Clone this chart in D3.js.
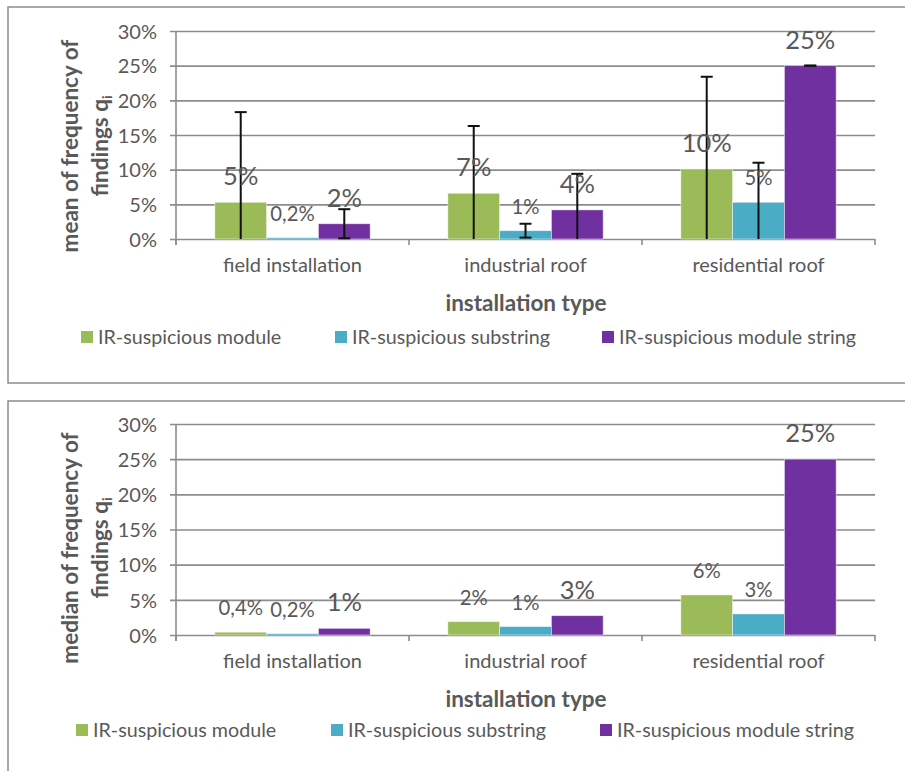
<!DOCTYPE html>
<html>
<head>
<meta charset="utf-8">
<script src="https://cdn.jsdelivr.net/npm/d3@7"></script>
<style>
  html, body { margin: 0; padding: 0; background: #fff; }
  svg { display: block; }
  text { font-family: Lato, "Open Sans", sans-serif; fill: #595959; }
</style>
</head>
<body>
<svg id="chart" width="905" height="771"></svg>
<script>
// Installation types on the x axis
const categories = ["field installation", "industrial roof", "residential roof"];
// Finding types (series)
const series = ["IR-suspicious module", "IR-suspicious substring", "IR-suspicious module string"];
const seriesColors = ["#9BBB59", "#4BACC6", "#7030A0"];

// Mean of frequency of findings q_i
const meanModule = [0.053, 0.066, 0.101];
const meanSubstring = [0.002, 0.012, 0.053];
const meanString = [0.022, 0.042, 0.25];
// Standard deviation (error bars) for the means
const meanErrModule = [0.130, 0.097, 0.133];
const meanErrSubstring = [0.000, 0.010, 0.057];
const meanErrString = [0.021, 0.052, 0.000];

// Median of frequency of findings q_i
const medianModule = [0.004, 0.019, 0.057];
const medianSubstring = [0.002, 0.012, 0.030];
const medianString = [0.0095, 0.0275, 0.25];

const yTicks = [0, 0.05, 0.10, 0.15, 0.20, 0.25, 0.30];

const svg = d3.select("#chart");

// Percent labels: whole percent, or one decimal (comma) below 0.5 %
function pctLabel(v) {
  const p = v * 100;
  if (Math.round(p) >= 1) return Math.round(p) + "%";
  return p.toFixed(1).replace(".", ",") + "%";
}

const AXIS_FONT = 20;

function drawPanel(cfg) {
  const g = svg.append("g");

  // outer frame
  g.append("rect")
    .attr("x", cfg.frame[0]).attr("y", cfg.frame[1])
    .attr("width", cfg.frame[2]).attr("height", cfg.frame[3])
    .attr("fill", "none").attr("stroke", "#8c8c8c").attr("stroke-width", 1.5);

  const x0 = d3.scaleBand().domain(categories).range([176, 875]).paddingInner(0).paddingOuter(0);
  const x1 = d3.scaleBand().domain(series).range([0, x0.bandwidth()]).paddingInner(0).paddingOuter(0.75);
  const y = d3.scaleLinear().domain([0, 0.30]).range([cfg.y0, cfg.y30]);

  // gridlines + y axis
  const yAxis = d3.axisLeft(y).tickValues(yTicks)
    .tickFormat(d => Math.round(d * 100) + "%")
    .tickSize(-(875 - 176)).tickSizeOuter(0).tickPadding(19);
  const ya = g.append("g").attr("transform", "translate(176,0)").call(yAxis);
  ya.select(".domain").remove();
  ya.selectAll(".tick line")
    .attr("x1", -6).attr("stroke", "#8c8c8c").attr("stroke-width", 1.6);
  ya.selectAll(".tick text")
    .style("font-family", "Lato, sans-serif").style("font-size", AXIS_FONT + "px")
    .attr("fill", "#595959").attr("dy", "0.36em");

  // vertical axis line
  g.append("line").attr("x1", 176).attr("x2", 176)
    .attr("y1", cfg.y30).attr("y2", cfg.y0 + 6)
    .attr("stroke", "#8c8c8c").attr("stroke-width", 1.6);

  // category axis (tick marks between categories)
  const xAxis = d3.axisBottom(x0).tickSize(0).tickPadding(19);
  const xa = g.append("g").attr("transform", `translate(0,${cfg.y0})`).call(xAxis);
  xa.select(".domain").remove();
  xa.selectAll(".tick text")
    .style("font-family", "Lato, sans-serif").style("font-size", AXIS_FONT + "px")
    .attr("fill", "#595959");
  const bounds = categories.map(c => x0(c)).concat([x0.range()[1]]);
  g.selectAll(".cattick").data(bounds).enter().append("line")
    .attr("x1", d => d).attr("x2", d => d)
    .attr("y1", cfg.y0).attr("y2", cfg.y0 + 6)
    .attr("stroke", "#8c8c8c").attr("stroke-width", 1.6);

  // bars
  const rows = [];
  cfg.values.forEach((vals, si) => {
    vals.forEach((v, ci) => {
      rows.push({ s: si, c: ci, v: v, e: cfg.errors ? cfg.errors[si][ci] : null });
    });
  });

  g.selectAll(".bar").data(rows).enter().append("rect")
    .attr("x", d => x0(categories[d.c]) + x1(series[d.s]))
    .attr("y", d => y(d.v))
    .attr("width", x1.bandwidth())
    .attr("height", d => y(0) - y(d.v))
    .attr("fill", d => seriesColors[d.s])
    .attr("stroke", "rgba(255,255,255,0.6)").attr("stroke-width", 0.8);

  // error bars (lower end clipped at the axis)
  if (cfg.errors) {
    const eb = rows.filter(d => d.e !== null && (d.e > 0 || d.v >= 0.2));
    const cx = d => x0(categories[d.c]) + x1(series[d.s]) + x1.bandwidth() / 2;
    eb.forEach(d => {
      const hi = d.v + d.e, lo = Math.max(0, d.v - d.e);
      g.append("line").attr("x1", cx(d)).attr("x2", cx(d))
        .attr("y1", y(hi)).attr("y2", y(lo))
        .attr("stroke", "#111").attr("stroke-width", 2);
      g.append("line").attr("x1", cx(d) - 6).attr("x2", cx(d) + 6)
        .attr("y1", y(hi)).attr("y2", y(hi))
        .attr("stroke", "#111").attr("stroke-width", 2);
      if (d.v - d.e > 0) {
        g.append("line").attr("x1", cx(d) - 6).attr("x2", cx(d) + 6)
          .attr("y1", y(lo)).attr("y2", y(lo))
          .attr("stroke", "#111").attr("stroke-width", 2);
      }
    });
  }

  // value labels
  g.selectAll(".vlabel").data(rows).enter().append("text")
    .attr("x", d => x0(categories[d.c]) + x1(series[d.s]) + x1.bandwidth() / 2)
    .attr("y", d => y(d.v) - 17)
    .attr("text-anchor", "middle")
    .style("font-size", d => cfg.labelSizes[d.s] + "px")
    .text(d => pctLabel(d.v));

  // y-axis title (two lines, rotated)
  const yt = g.append("text")
    .attr("transform", `translate(0,${cfg.titleY}) rotate(-90)`)
    .attr("text-anchor", "middle")
    .style("font-weight", "bold").style("font-size", "22.5px");
  yt.append("tspan").attr("x", 0).attr("y", 78).text(cfg.yTitle);
  const l2 = yt.append("tspan").attr("x", 0).attr("y", 108);
  l2.append("tspan").text("findings q");
  l2.append("tspan").attr("dy", 4).style("font-size", "14px").text("i");

  // x-axis title
  g.append("text").attr("x", 526).attr("y", cfg.y0 + 72)
    .attr("text-anchor", "middle")
    .style("font-weight", "bold").style("font-size", "22.5px")
    .text("installation type");

  // legend
  const lg = g.append("g").attr("transform", `translate(0,${cfg.legendY})`);
  series.forEach((s, i) => {
    const item = lg.append("g").attr("transform", `translate(${cfg.legendX[i]},0)`);
    item.append("rect").attr("x", 0).attr("y", -6).attr("width", 12).attr("height", 12)
      .attr("fill", seriesColors[i]);
    item.append("text").attr("x", 17).attr("y", 0).attr("dy", "0.35em")
      .style("font-size", "19.7px").text(s);
  });
}

drawPanel({
  frame: [8, 7, 910, 376],
  y0: 239, y30: 31,
  values: [meanModule, meanSubstring, meanString],
  errors: [meanErrModule, meanErrSubstring, meanErrString],
  labelSizes: [25.5, 20.3, 25.5],
  yTitle: "mean of frequency of",
  titleY: 146,
  legendY: 337,
  legendX: [81, 335, 602]
});

drawPanel({
  frame: [8, 401, 910, 400],
  y0: 635, y30: 424,
  values: [medianModule, medianSubstring, medianString],
  errors: null,
  labelSizes: [20.3, 20.3, 25.5],
  yTitle: "median of frequency of",
  titleY: 548,
  legendY: 730,
  legendX: [76, 331, 600]
});
</script>
</body>
</html>
